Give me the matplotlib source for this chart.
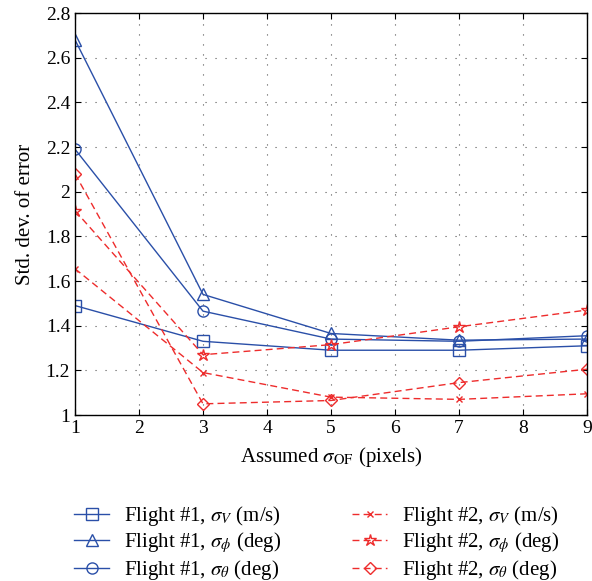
import matplotlib
matplotlib.use('Agg')
from matplotlib import pyplot as plt
from matplotlib.ticker import FuncFormatter

plt.rcParams['font.family'] = 'Liberation Serif'
plt.rcParams['mathtext.fontset'] = 'stix'

x = [1, 3, 5, 7, 9]

f1_v = [1.49, 1.33, 1.29, 1.29, 1.31]
f1_phi = [2.68, 1.54, 1.365, 1.335, 1.34]
f1_theta = [2.19, 1.465, 1.34, 1.33, 1.355]

f2_v = [1.655, 1.19, 1.08, 1.07, 1.095]
f2_phi = [1.915, 1.27, 1.315, 1.395, 1.47]
f2_theta = [2.08, 1.05, 1.065, 1.145, 1.205]

labels_f1 = [r'Flight #1, $\sigma_V$ (m/s)', r'Flight #1, $\sigma_\phi$ (deg)', r'Flight #1, $\sigma_\theta$ (deg)']
labels_f2 = [r'Flight #2, $\sigma_V$ (m/s)', r'Flight #2, $\sigma_\phi$ (deg)', r'Flight #2, $\sigma_\theta$ (deg)']

blue = '#2a4fa8'
red = '#ee2c2c'

fig = plt.figure(figsize=(5.92, 5.81), dpi=100)
ax = fig.add_axes([75 / 592, 1 - 415 / 581, 512 / 592, 402 / 581])

h = []
h += ax.plot(x, f1_v, '-', color=blue, lw=1.0, marker='s', ms=8, mfc='none', mec=blue, label=labels_f1[0])
h += ax.plot(x, f1_phi, '-', color=blue, lw=1.0, marker='^', ms=9, mfc='none', mec=blue, label=labels_f1[1])
h += ax.plot(x, f1_theta, '-', color=blue, lw=1.0, marker='o', ms=8, mfc='none', mec=blue, label=labels_f1[2])
h += ax.plot(x, f2_v, '--', color=red, lw=1.0, marker='x', ms=4, mec=red, label=labels_f2[0], dashes=(5, 3))
h += ax.plot(x, f2_phi, '--', color=red, lw=1.0, marker='*', ms=9, mfc='none', mec=red, label=labels_f2[1], dashes=(5, 3))
h += ax.plot(x, f2_theta, '--', color=red, lw=1.0, marker='D', ms=6.5, mfc='none', mec=red, label=labels_f2[2], dashes=(5, 3))

ax.set_xlim(1, 9)
ax.set_ylim(1, 2.8)
ax.set_xticks(range(1, 10))
ax.set_yticks([1 + 0.2 * i for i in range(10)])
ax.yaxis.set_major_formatter(FuncFormatter(lambda v, p: f'{v:g}' if abs(v - 1) > 1e-6 else '1'))
ax.tick_params(direction='in', labelsize=14, length=4, top=True, right=True)
ax.grid(True, linestyle=(0, (1, 8)), color='#555555', lw=0.8)
for s in ax.spines.values():
    s.set_linewidth(1.0)

ax.set_xlabel(r'Assumed $\sigma_{\mathrm{OF}}$ (pixels)', fontsize=15, labelpad=6)
ax.set_ylabel('Std. dev. of error', fontsize=15, labelpad=8)

fig.legend(handles=h, loc='upper left', bbox_to_anchor=(74 / 592, 1 - 504 / 581), ncol=2, frameon=False,
           fontsize=15, handlelength=1.7, handletextpad=0.7, columnspacing=3.4, labelspacing=0.12,
           borderaxespad=0, borderpad=0)

fig.savefig('out.png', dpi=100)
